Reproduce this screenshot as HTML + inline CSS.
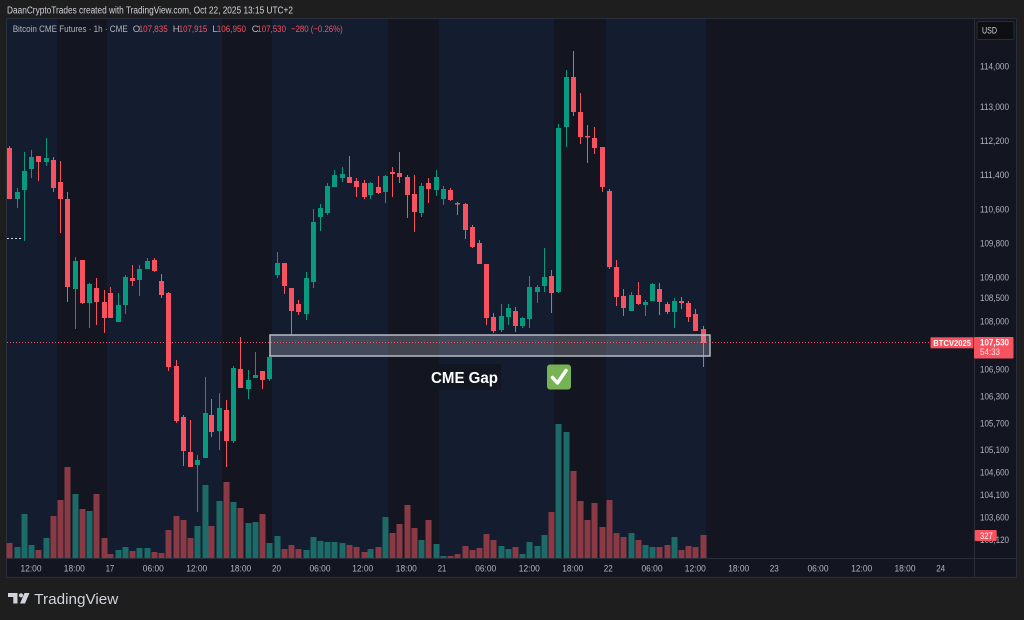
<!DOCTYPE html>
<html><head><meta charset="utf-8">
<style>
html,body{margin:0;padding:0;background:#1e1e1e;width:1024px;height:620px;overflow:hidden;}
svg{display:block;}
text{font-family:"Liberation Sans",sans-serif;}
</style></head><body>
<svg id="s" width="1024" height="620" viewBox="0 0 1024 620" xmlns="http://www.w3.org/2000/svg">
<rect width="1024" height="620" fill="#1e1e1e"/>
<text x="7" y="13.5" font-size="10" fill="#d1d4dc" textLength="286" lengthAdjust="spacingAndGlyphs">DaanCryptoTrades created with TradingView.com, Oct 22, 2025 13:15 UTC+2</text>
<rect x="6.5" y="18.5" width="1010" height="559" fill="#131620" stroke="#2a2e39"/>
<g fill="#141c30">
<rect x="7" y="19" width="50" height="539"/>
<rect x="107" y="19" width="115" height="539"/>
<rect x="272" y="19" width="116" height="539"/>
<rect x="439" y="19" width="115" height="539"/>
<rect x="606" y="19" width="100" height="539"/>
</g>
<line x1="974.5" y1="19" x2="974.5" y2="577" stroke="#2a2e39"/>
<line x1="7" y1="558.5" x2="1016" y2="558.5" stroke="#2a2e39"/>

<g id="vol"><path id="vg" fill="#1d6b68"/><path id="vr" fill="#8a3a44"/></g>
<g id="cand"><path id="cg" fill="#089981"/><path id="cr" fill="#f7525f"/></g>

<!-- dotted marker left -->
<line x1="7" y1="238.5" x2="22" y2="238.5" stroke="#d1d4dc" stroke-dasharray="2,2"/>

<!-- gap box -->
<rect x="270" y="335" width="440" height="21" fill="rgba(200,205,215,0.26)" stroke="#b8bcc4" stroke-width="1.5"/>
<!-- price line -->
<line x1="7" y1="342.5" x2="930" y2="342.5" stroke="#f7525f" stroke-dasharray="1,2"/>

<!-- CME gap text -->
<rect x="426" y="364" width="75" height="26" fill="#121620"/>
<text x="431" y="383" font-size="16" font-weight="bold" fill="#ffffff" textLength="67" lengthAdjust="spacingAndGlyphs">CME Gap</text>
<rect x="547" y="364.5" width="24" height="25" rx="3" fill="#77b255"/>
<path d="M552.5 377.5 L557.5 383 L566 370.5" stroke="#ffffff" stroke-width="3.5" fill="none" stroke-linecap="round" stroke-linejoin="round"/>

<!-- legend -->
<g font-size="9.5">
<text x="12.7" y="32" fill="#b2b5be" textLength="115" lengthAdjust="spacingAndGlyphs">Bitcoin CME Futures · 1h · CME</text>
<text x="132.7" y="32" fill="#b2b5be">O</text>
<text x="138.7" y="32" fill="#f7525f" textLength="29" lengthAdjust="spacingAndGlyphs">107,835</text>
<text x="172.7" y="32" fill="#b2b5be">H</text>
<text x="178.7" y="32" fill="#f7525f" textLength="28.6" lengthAdjust="spacingAndGlyphs">107,915</text>
<text x="212.3" y="32" fill="#b2b5be">L</text>
<text x="216.7" y="32" fill="#f7525f" textLength="29.3" lengthAdjust="spacingAndGlyphs">106,950</text>
<text x="251.7" y="32" fill="#b2b5be">C</text>
<text x="257.3" y="32" fill="#f7525f" textLength="28.7" lengthAdjust="spacingAndGlyphs">107,530</text>
<text x="291" y="32" fill="#f7525f" textLength="51.7" lengthAdjust="spacingAndGlyphs">−280 (−0.26%)</text>
</g>

<!-- USD -->
<rect x="977" y="21.5" width="37" height="18" rx="2" fill="#0e0f12" stroke="#2a2e39"/>
<text x="982" y="33.5" font-size="9" fill="#d1d4dc" textLength="15" lengthAdjust="spacingAndGlyphs">USD</text>

<!-- price axis -->
<g font-size="9.5" fill="#b2b5be">
<text x="980" y="69.3" textLength="29" lengthAdjust="spacingAndGlyphs">114,000</text>
<text x="980" y="110" textLength="29" lengthAdjust="spacingAndGlyphs">113,000</text>
<text x="980" y="144" textLength="29" lengthAdjust="spacingAndGlyphs">112,200</text>
<text x="980" y="178" textLength="29" lengthAdjust="spacingAndGlyphs">111,400</text>
<text x="980" y="212.3" textLength="29" lengthAdjust="spacingAndGlyphs">110,600</text>
<text x="980" y="246.3" textLength="29" lengthAdjust="spacingAndGlyphs">109,800</text>
<text x="980" y="280.3" textLength="29" lengthAdjust="spacingAndGlyphs">109,000</text>
<text x="980" y="300.8" textLength="29" lengthAdjust="spacingAndGlyphs">108,500</text>
<text x="980" y="324.3" textLength="29" lengthAdjust="spacingAndGlyphs">108,000</text>
<text x="980" y="372.6" textLength="29" lengthAdjust="spacingAndGlyphs">106,900</text>
<text x="980" y="399.3" textLength="29" lengthAdjust="spacingAndGlyphs">106,300</text>
<text x="980" y="426.3" textLength="29" lengthAdjust="spacingAndGlyphs">105,700</text>
<text x="980" y="453" textLength="29" lengthAdjust="spacingAndGlyphs">105,100</text>
<text x="980" y="475.3" textLength="29" lengthAdjust="spacingAndGlyphs">104,600</text>
<text x="980" y="498" textLength="29" lengthAdjust="spacingAndGlyphs">104,100</text>
<text x="980" y="520.3" textLength="29" lengthAdjust="spacingAndGlyphs">103,600</text>
<text x="980" y="543" textLength="29" lengthAdjust="spacingAndGlyphs">103,120</text>
</g>

<!-- price labels -->
<rect x="930.5" y="337.3" width="43" height="11" fill="#f7525f"/>
<text x="933.3" y="346" font-size="8.5" font-weight="bold" fill="#ffffff" textLength="37.7" lengthAdjust="spacingAndGlyphs">BTCV2025</text>
<rect x="974" y="337" width="39.5" height="21.5" rx="1" fill="#f7525f"/>
<text x="980" y="345.6" font-size="9.5" font-weight="bold" fill="#ffffff" textLength="29" lengthAdjust="spacingAndGlyphs">107,530</text>
<text x="980" y="355" font-size="9" fill="#ffe0e3" textLength="20" lengthAdjust="spacingAndGlyphs">54:33</text>
<rect x="974.7" y="530" width="22" height="11" rx="1" fill="#f7525f"/>
<text x="980" y="539" font-size="9" fill="#ffffff" textLength="12.7" lengthAdjust="spacingAndGlyphs">327</text>

<!-- time axis -->
<g font-size="9.5" fill="#b2b5be" text-anchor="middle">
<text x="31" y="571.6" textLength="21" lengthAdjust="spacingAndGlyphs">12:00</text>
<text x="74.3" y="571.6" textLength="21" lengthAdjust="spacingAndGlyphs">18:00</text>
<text x="110" y="571.6" textLength="8.5" lengthAdjust="spacingAndGlyphs">17</text>
<text x="153.3" y="571.6" textLength="21" lengthAdjust="spacingAndGlyphs">06:00</text>
<text x="196.7" y="571.6" textLength="21" lengthAdjust="spacingAndGlyphs">12:00</text>
<text x="240.7" y="571.6" textLength="21" lengthAdjust="spacingAndGlyphs">18:00</text>
<text x="276.5" y="571.6" textLength="9" lengthAdjust="spacingAndGlyphs">20</text>
<text x="320" y="571.6" textLength="21" lengthAdjust="spacingAndGlyphs">06:00</text>
<text x="362.7" y="571.6" textLength="21" lengthAdjust="spacingAndGlyphs">12:00</text>
<text x="406.3" y="571.6" textLength="21" lengthAdjust="spacingAndGlyphs">18:00</text>
<text x="442" y="571.6" textLength="8.5" lengthAdjust="spacingAndGlyphs">21</text>
<text x="485.7" y="571.6" textLength="21" lengthAdjust="spacingAndGlyphs">06:00</text>
<text x="529.3" y="571.6" textLength="21" lengthAdjust="spacingAndGlyphs">12:00</text>
<text x="572.7" y="571.6" textLength="21" lengthAdjust="spacingAndGlyphs">18:00</text>
<text x="608.3" y="571.6" textLength="9" lengthAdjust="spacingAndGlyphs">22</text>
<text x="652" y="571.6" textLength="21" lengthAdjust="spacingAndGlyphs">06:00</text>
<text x="695.3" y="571.6" textLength="21" lengthAdjust="spacingAndGlyphs">12:00</text>
<text x="738.7" y="571.6" textLength="21" lengthAdjust="spacingAndGlyphs">18:00</text>
<text x="774.3" y="571.6" textLength="9" lengthAdjust="spacingAndGlyphs">23</text>
<text x="818" y="571.6" textLength="21" lengthAdjust="spacingAndGlyphs">06:00</text>
<text x="861.7" y="571.6" textLength="21" lengthAdjust="spacingAndGlyphs">12:00</text>
<text x="905" y="571.6" textLength="21" lengthAdjust="spacingAndGlyphs">18:00</text>
<text x="940.7" y="571.6" textLength="9" lengthAdjust="spacingAndGlyphs">24</text>
</g>

<!-- TradingView logo -->
<g fill="#d1d4dc">
<path d="M8 593 H17.5 V603.5 H13.3 V597 H8 Z"/>
<circle cx="21" cy="595.3" r="2.1"/>
<path d="M24.5 593 H29.5 L25 603.5 H20 Z"/>
</g>
<text x="34.3" y="603.8" font-size="15" fill="#d1d4dc" textLength="84" lengthAdjust="spacingAndGlyphs">TradingView</text>
</svg>
<script>
(function(){
var C=[
[9.3,148,199,146,199,543],[16.7,199,192,188,208,547],[24,190,171,152,241,514],[31,169,157,150,178,545],
[38,156,162,156,181,550],[45.7,162,158,138,166,538],[52.7,160,188,157,192,516],[60,182,199,161,233,500],
[67.3,199,287,192,302,467],[74.7,289,261,257,329,494],[81.7,260,303,260,304,509],[88.7,303,284,283,328,511],
[96.3,288,302,278,325,494],[103.7,302,318,290,333,538],[110.3,293,318,287,318,554],[117.7,322,305,293,322,550],
[125,305,277,275,314,547],[132,278,281,265,286,551],[139.3,280,269,265,296,548],[146.7,269,261,258,269,548],
[153.7,260,271,258,272,552],[161,281,295,274,298,553],[168.3,293,367,292,371,530],[175.7,366,421,360,423,516],
[183,417,451,415,466,520],[189.7,452,467,420,467,538],[197.3,465,460,455,512,526],[204.7,458,413,377,458,485],
[211.3,415,432,399,437,526],[219,431,408,393,450,501],[226,410,441,400,467,482],[233.3,441,368,366,443,502],
[240.3,369,388,337,388,508],[247.7,389,380,370,399,523],[254.7,378,375,352,378,522],[262,371,380,371,389,514],
[269.3,379,357,355,381,543],[276.7,275,263,252,278,536],[284,263,286,263,294,549],[291,288,311,288,335,545],
[298.3,304,312,300,315,549],[305.7,314,278,272,320,550],[312.7,282,222,209,288,537],[320,217,208,204,231,541],
[327.3,213,186,183,215,542],[334,187,175,170,187,542],[341.7,178,174,167,182,543],[348.7,177,183,156,183,545],
[356.3,181,187,178,197,547],[363.7,183,197,180,199,552],[370.3,195,183,182,199,549],[377.7,187,193,176,194,547],
[385,192,176,175,203,517],[392,172,174,167,197,533],[399.3,173,177,152,183,524],[406.7,177,195,175,218,505],
[413.7,194,212,175,232,528],[421,213,186,183,217,540],[428.3,183,189,178,203,520],[435.7,190,177,170,196,544],
[443,199,189,186,205,556],[450,190,200,188,201,556],[457.3,203,204,202,215,554],[464.7,204,230,203,239,546],
[471.7,227,247,225,248,550],[479,243,264,240,264,548],[486,264,318,264,325,534],[493.3,317,331,313,333,540],
[500.7,330,316,304,332,546],[507.7,317,308,304,325,549],[515,311,326,307,332,547],[522.3,326,318,317,328,554],
[529.3,319,287,276,328,542],[536.7,292,287,285,303,546],[544,286,277,248,292,535],[551,276,293,270,313,512],
[558.3,292,128,124,293,424],[565.7,127,77,70,147,432],[572.7,77,112,51,116,471],[580,112,137,93,144,501],
[587.3,136,137,125,163,520],[594.3,138,148,127,154,503],[601.7,147,187,147,192,527],[609,191,267,189,269,500],
[615.7,267,297,260,306,533],[623.3,296,308,289,316,537],[630.7,311,295,292,311,533],[638.3,295,304,282,305,540],
[645,305,302,300,316,545],[652.3,301,284,283,301,547],[659.3,289,302,283,315,547],[666.7,304,312,302,314,545],
[674,312,301,298,328,537],[681,301,303,297,309,550],[688.3,303,317,301,322,546],[695.3,314,331,309,331,547],
[702.7,329,343,326,367,535]];
var cg='',cr='',vg='',vr='';
for(var i=0;i<C.length;i++){
 var d=C[i],x=Math.round(d[0]),o=d[1],c=d[2],h=d[3],l=d[4],v=d[5];
 var up=c<o,tp=Math.min(o,c),bh=Math.max(1.5,Math.abs(o-c));
 var s='M'+x+' '+h+'h1v'+(l-h)+'h-1zM'+(x-2)+' '+tp+'h5v'+bh+'h-5z';
 var vs='M'+(x-2.5)+' '+v+'h6v'+(558-v)+'h-6z';
 if(up){cg+=s;vg+=vs;}else{cr+=s;vr+=vs;}
}
document.getElementById('cg').setAttribute('d',cg);
document.getElementById('cr').setAttribute('d',cr);
document.getElementById('vg').setAttribute('d',vg);
document.getElementById('vr').setAttribute('d',vr);
})();
</script>
</body></html>
